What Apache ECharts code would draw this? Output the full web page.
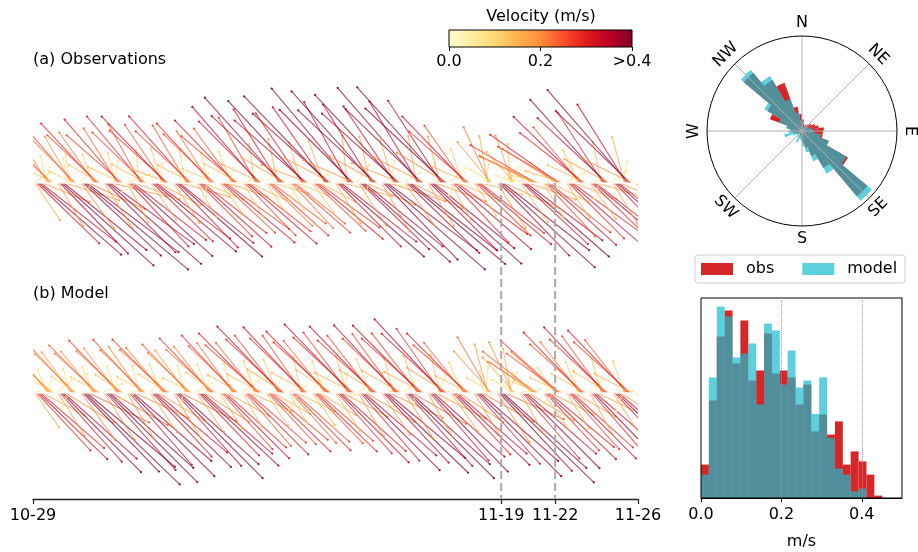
<!DOCTYPE html>
<html>
<head>
<meta charset="utf-8">
<script src="https://cdn.jsdelivr.net/npm/echarts@6/dist/echarts.min.js"></script>
<style>
  html, body { margin: 0; padding: 0; background: #fff; }
  #chart { width: 918px; height: 552px; }
</style>
</head>
<body>
<div id="chart"></div>
<script>
// stick samples, one per ~2 h; speed in cm/s, direction in deg (toward, clockwise from N)
const obsSpeed = [
  8,16,31,39,34,18,6,10,20,26,22,12,
  5,18,35,44,38,20,9,10,19,26,22,11,
  7,20,38,48,41,22,5,11,22,29,25,13,
  6,19,35,44,37,20,8,11,23,30,26,14,
  9,16,31,39,33,17,6,12,24,31,26,14,
  5,16,30,38,33,17,7,13,25,33,28,15,
  7,17,32,40,34,18,5,12,24,32,27,14,
  6,14,27,34,29,15,8,11,22,29,25,13,
  8,14,26,33,28,15,6,12,24,31,26,14,
  5,14,26,33,28,15,7,14,27,36,31,16,
  7,12,22,28,24,13,6,16,31,41,35,18,
  6,11,22,27,23,12,8,15,30,40,34,18,
  7,13,25,31,27,14,5,16,33,43,37,19,
  6,17,32,40,34,18,7,17,33,44,37,20,
  8,18,34,42,36,19,6,17,33,44,38,20,
  5,20,38,47,40,21,8,16,33,43,37,19,
  7,19,36,45,39,20,6,17,34,45,38,20,
  6,18,34,43,37,19,7,17,35,46,39,21,
  8,15,29,36,31,16,6,13,25,33,28,15,
  5,14,27,34,29,15,7,8,17,22,19,10,
  6,19,36,45,39,20,5,7,14,18,15,8,
  7,17,32,40,34,18,8,10,21,27,23,12,
  6,14,26,33,28,15,6,11,23,30,26,14,
  8,15,28,35,30,16,7,13,26,34,29,15,
  5,16,30,38,33,17,6,15,30,40,34,18,
  7,17,32,40,34,18,8,17,33,44,37,20,
  6,15
]
const obsDir = [
  60,146,134,131,128,112,20,348,327,318,312,296,
  85,150,136,132,129,108,350,352,330,319,315,292,
  40,144,133,130,127,115,200,340,325,317,313,300,
  95,148,135,131,126,104,10,345,328,319,311,294,
  70,152,137,132,128,110,240,355,331,320,314,298,
  30,145,134,130,127,118,5,342,326,316,312,290,
  88,147,136,131,129,106,330,350,329,318,313,297,
  55,150,135,132,128,113,180,346,327,317,314,293,
  100,143,133,130,126,109,15,338,324,316,310,299,
  75,149,136,131,128,116,270,352,330,319,315,295,
  45,146,134,132,127,107,355,348,328,318,313,300,
  90,151,137,131,129,112,210,344,326,317,311,291,
  65,144,133,130,126,118,25,340,325,316,312,298,
  80,148,135,131,128,105,340,354,331,320,315,294,
  35,147,134,132,129,114,190,347,328,318,313,299,
  92,150,136,131,127,108,8,343,326,317,312,292,
  58,145,134,130,128,117,260,350,329,319,314,297,
  84,149,135,132,129,110,352,346,327,318,313,301,
  48,152,137,131,126,113,225,341,325,316,311,293,
  96,146,134,130,128,106,15,10,350,335,320,300,
  70,148,136,132,128,115,60,30,355,340,318,290,
  40,145,133,131,127,109,280,300,296,300,295,285,
  86,150,137,132,129,117,250,310,302,305,300,288,
  62,147,135,131,126,111,345,335,320,314,308,295,
  78,144,134,130,128,107,200,348,327,318,313,298,
  52,149,136,132,129,114,12,345,328,319,314,296,
  88,146
]
const modelSpeed = [
  6,15,28,34,30,17,5,9,17,22,19,11,
  7,18,33,40,35,20,6,9,18,23,20,11,
  5,21,39,47,41,24,7,10,19,24,21,12,
  8,20,37,45,40,23,5,10,20,26,22,12,
  6,19,34,42,37,21,7,10,20,26,22,12,
  7,17,31,38,33,19,6,11,21,27,23,13,
  5,19,35,43,38,22,8,10,19,24,21,12,
  7,17,31,38,33,19,6,11,21,27,23,13,
  6,15,27,33,29,17,5,11,22,28,24,13,
  8,14,25,31,27,16,7,12,23,30,26,14,
  5,14,25,30,26,15,6,13,26,33,28,16,
  7,13,24,29,26,15,8,13,25,32,28,15,
  6,14,25,30,26,15,5,12,24,31,27,15,
  8,16,29,35,31,18,7,14,27,34,29,16,
  5,18,32,39,34,20,6,13,26,33,28,16,
  7,18,34,41,36,21,8,13,26,33,28,16,
  6,19,35,43,38,22,5,14,27,34,29,16,
  8,18,32,39,34,20,7,14,28,36,31,17,
  5,17,30,37,33,19,6,12,23,30,26,14,
  7,19,34,42,37,21,8,9,18,23,20,11,
  6,21,38,46,40,23,5,8,16,20,17,10,
  8,17,31,38,33,19,7,10,19,24,21,12,
  5,15,28,34,30,17,6,11,22,28,24,13,
  7,15,27,33,29,17,8,12,23,30,26,14,
  6,17,30,37,33,19,5,13,25,32,28,15,
  8,17,31,38,33,19,7,12,24,31,27,15,
  5,13
]
const modelDir = [
  75,145,137,134,131,118,30,340,322,316,313,300,
  50,148,138,135,132,122,200,345,324,317,314,302,
  90,144,136,134,130,116,350,338,321,315,312,298,
  65,147,138,135,132,120,15,342,323,316,313,303,
  80,150,139,135,131,115,250,347,325,317,314,299,
  45,146,137,134,130,121,340,336,320,315,312,301,
  95,149,138,135,132,117,190,344,323,316,313,297,
  60,145,136,133,131,123,10,339,322,316,312,304,
  85,148,138,135,132,119,230,346,324,317,314,300,
  55,151,139,135,131,114,355,341,321,315,311,298,
  88,146,137,134,130,120,20,337,322,316,313,302,
  70,149,138,135,132,116,210,348,325,317,314,299,
  42,145,136,134,131,122,345,340,321,315,312,303,
  92,147,138,135,132,118,5,343,323,316,313,297,
  58,150,139,135,131,121,260,338,322,316,312,301,
  82,146,137,134,130,115,335,345,324,317,314,300,
  48,148,138,135,132,120,180,341,322,315,312,298,
  87,151,139,136,132,117,25,347,325,317,313,302,
  66,145,137,134,131,123,240,336,321,315,311,296,
  94,149,138,135,131,119,350,5,345,330,318,300,
  53,147,137,134,132,114,30,20,350,335,318,298,
  79,150,139,135,131,121,270,315,305,308,302,292,
  61,146,137,134,130,117,220,325,312,312,306,295,
  90,148,138,135,132,120,355,338,322,316,312,299,
  47,151,139,136,131,116,15,344,324,317,313,301,
  84,147,137,134,131,122,200,340,322,316,312,297,
  70,145
]
const timeTicks = [0, 243, 271, 314]
const timeLabels = ['10-29', '11-19', '11-22', '11-26']
const markTimes = [243, 271]

const velTicks = [0, 0.2, 0.4]
const velLabels = ['0.0', '0.2', '>0.4']

// rose: 36 bins of 10 deg, starting at N
const roseObs = [12,8,6,8,10,12,15,18,23,22,22,30,56,90,45,28,18,12,
                 8,6,5,4,4,5,6,8,10,12,16,36,42,80,62,54,26,18]
const roseModel = [8,6,5,5,6,7,8,10,12,13,20,30,54,96,52,34,23,16,
                   10,9,13,8,6,7,10,19,14,13,17,26,46,84,67,36,20,12]
const compassLabels = ['N', 'NE', 'E', 'SE', 'S', 'SW', 'W', 'NW']
const compassRot = [0, -45, -90, 45, 0, -45, 90, 45]

// speed histogram, bin width 0.0196 m/s from 0
const histBin = 0.0196
const histObs = [16.7,48.7,80.8,93.7,67.2,88.7,58.7,63.7,82.2,62.2,63.7,60.3,
                 46.7,56.7,33.3,41.7,31.7,38.3,16.7,23.3,18.3,11.7,1.2]
const histModel = [11.7,60.3,95.8,90.8,70.3,72.2,77.2,46.7,87.2,83.8,56.7,73.7,
                   55.3,58.7,42,60.3,30,14.7,11.7,3.3,4.7]

const YLORRD = ['#ffffcc', '#ffeda0', '#fed976', '#feb24c', '#fd8d3c', '#fc4e2a', '#e31a1c', '#bd0026', '#800026']
const OBS_C = '#d62728'
const MODEL_C = 'rgba(23,190,207,0.7)'
const STICK_PX = 280 // pixels per m/s
const FONT = 'DejaVu Sans'
const FS = 16

const chart = echarts.init(document.getElementById('chart'))

function stickData(speed, dir) {
  return speed.map((s, i) => [i, s / 100, dir[i], Math.min(s / 100, 0.4)])
}

function renderStick(params, api) {
  const base = api.coord([api.value(0), 0])
  const s = api.value(1)
  const d = api.value(2) * Math.PI / 180
  const tip = [base[0] + s * Math.sin(d) * STICK_PX, base[1] - s * Math.cos(d) * STICK_PX]
  const color = api.visual('color')
  return {
    type: 'group',
    children: [
      { type: 'line', shape: { x1: base[0], y1: base[1], x2: tip[0], y2: tip[1] }, style: { stroke: color, lineWidth: 1.1, opacity: 0.7 } },
      { type: 'circle', shape: { cx: tip[0], cy: tip[1], r: 1.1 }, style: { fill: color, opacity: 0.9 } }
    ]
  }
}

function renderMark(params, api) {
  const p0 = api.coord([api.value(0), 1])
  const p1 = api.coord([api.value(0), 0])
  return { type: 'line', shape: { x1: p0[0], y1: p0[1], x2: p1[0], y2: p1[1] }, style: { stroke: '#aaaaaa', lineWidth: 2, lineDash: [8, 4] } }
}

function renderColorbar(params, api) {
  const cs = params.coordSys
  return {
    type: 'rect',
    shape: { x: cs.x, y: cs.y, width: cs.width, height: cs.height },
    style: {
      fill: new echarts.graphic.LinearGradient(0, 0, 1, 0, YLORRD.map((c, i) => ({ offset: i / (YLORRD.length - 1), color: c }))),
      stroke: '#000', lineWidth: 1
    }
  }
}

function renderRose(params, api) {
  const cs = params.coordSys
  const val = api.value(0)
  const a0 = api.value(1)
  const p = api.coord([val, a0 + 5])
  const r = Math.hypot(p[0] - cs.cx, p[1] - cs.cy)
  return {
    type: 'sector',
    shape: { cx: cs.cx, cy: cs.cy, r0: 0, r: r, startAngle: (a0 - 90) * Math.PI / 180, endAngle: (a0 + 10 - 90) * Math.PI / 180, clockwise: true },
    style: { fill: api.visual('color') }
  }
}

function renderHist(params, api) {
  const i = api.value(0)
  const p0 = api.coord([i * histBin, api.value(1)])
  const p1 = api.coord([(i + 1) * histBin, 0])
  return { type: 'rect', shape: { x: p0[0], y: p0[1], width: p1[0] - p0[0], height: p1[1] - p0[1] }, style: { fill: api.visual('color') } }
}

const hiddenAxis = { show: false }
const compassCx = 802, compassCy = 131, compassR = 95

const graphics = [
  { type: 'text', x: 33, y: 60, style: { text: '(a) Observations', fontSize: FS, fontFamily: FONT, fill: '#000', verticalAlign: 'middle' } },
  { type: 'text', x: 33, y: 294, style: { text: '(b) Model', fontSize: FS, fontFamily: FONT, fill: '#000', verticalAlign: 'middle' } },
  { type: 'text', x: 541, y: 17, style: { text: 'Velocity (m/s)', fontSize: FS, fontFamily: FONT, fill: '#000', align: 'center', verticalAlign: 'middle' } }
]
compassLabels.forEach((t, i) => {
  const b = i * 45 * Math.PI / 180
  graphics.push({
    type: 'text',
    x: compassCx + (compassR + 13) * Math.sin(b),
    y: compassCy - (compassR + 13) * Math.cos(b),
    rotation: compassRot[i] * Math.PI / 180,
    style: { text: t, fontSize: FS, fontFamily: FONT, fill: '#000', align: 'center', verticalAlign: 'middle' }
  })
})

chart.setOption({
  animation: false,
  backgroundColor: '#fff',
  textStyle: { fontFamily: FONT },
  graphic: graphics,
  grid: [
    { left: 33, top: 60, width: 605, height: 246 },
    { left: 33, top: 287, width: 605, height: 212 },
    { left: 33, top: 183, width: 605, height: 316 },
    { left: 449, top: 30, width: 183, height: 17 },
    { left: 701, top: 298, width: 201, height: 200, show: true, borderColor: '#000', borderWidth: 1, z: 10 }
  ],
  polar: { center: [compassCx, compassCy], radius: compassR },
  angleAxis: {
    type: 'value', min: 0, max: 360, interval: 45, startAngle: 90, clockwise: true, z: 5,
    axisLine: { lineStyle: { color: '#000', width: 1 } },
    axisTick: { show: false },
    axisLabel: { show: false },
    splitLine: { lineStyle: { color: '#b0b0b0', width: 1 } }
  },
  radiusAxis: {
    min: 0, max: 100,
    axisLine: { show: false }, axisTick: { show: false }, axisLabel: { show: false }, splitLine: { show: false }
  },
  xAxis: [
    { gridIndex: 0, type: 'value', min: 0, max: 314, ...hiddenAxis },
    {
      gridIndex: 1, type: 'value', min: 0, max: 314,
      axisLine: { onZero: false, lineStyle: { color: '#222', width: 1.3 } },
      axisTick: { customValues: timeTicks, length: 5, lineStyle: { color: '#222', width: 1.2 } },
      axisLabel: { customValues: timeTicks, formatter: v => timeLabels[timeTicks.indexOf(v)], fontSize: FS, color: '#000', margin: 9 },
      splitLine: { show: false }
    },
    { gridIndex: 2, type: 'value', min: 0, max: 314, ...hiddenAxis },
    {
      gridIndex: 3, type: 'value', min: 0, max: 0.4,
      axisLine: { show: false, onZero: false },
      axisTick: { customValues: velTicks, length: 4, lineStyle: { color: '#000' } },
      axisLabel: { customValues: velTicks, formatter: v => velLabels[velTicks.indexOf(v)], fontSize: FS, color: '#000', margin: 7 },
      splitLine: { show: false }
    },
    {
      gridIndex: 4, type: 'value', min: 0, max: 0.5, interval: 0.2, z: 10,
      name: 'm/s', nameLocation: 'middle', nameGap: 36, nameTextStyle: { fontSize: FS, color: '#000' },
      axisLine: { onZero: false, lineStyle: { color: '#000' } },
      axisTick: { length: 4, lineStyle: { color: '#000' } },
      axisLabel: { fontSize: FS, color: '#000', margin: 9, showMaxLabel: false, formatter: v => v.toFixed(1) },
      splitLine: { show: true, showMinLine: false, showMaxLine: false, lineStyle: { type: 'dotted', color: '#999', width: 1 } }
    }
  ],
  yAxis: [
    { gridIndex: 0, type: 'value', min: -1, max: 1, ...hiddenAxis },
    { gridIndex: 1, type: 'value', min: -1, max: 1, ...hiddenAxis },
    { gridIndex: 2, type: 'value', min: 0, max: 1, ...hiddenAxis },
    { gridIndex: 3, type: 'value', min: 0, max: 1, ...hiddenAxis },
    { gridIndex: 4, type: 'value', min: 0, max: 100, axisLine: { show: false }, axisTick: { show: false }, axisLabel: { show: false }, splitLine: { show: false } }
  ],
  visualMap: {
    type: 'continuous', show: false, seriesIndex: [0, 1], dimension: 3,
    min: 0, max: 0.4, inRange: { color: YLORRD }
  },
  legend: {
    data: ['obs', 'model'], left: 695, top: 255, icon: 'rect',
    itemWidth: 32, itemHeight: 12, itemGap: 28,
    padding: [6, 8, 6, 6],
    borderColor: '#cccccc', borderWidth: 1, borderRadius: 3,
    textStyle: { fontSize: FS, color: '#000', padding: [0, 0, 0, 8] }
  },
  series: [
    {
      type: 'custom', name: 'obsSticks', xAxisIndex: 0, yAxisIndex: 0, clip: true,
      data: stickData(obsSpeed, obsDir), renderItem: renderStick, encode: { x: 0, y: 1 },
      markLine: { silent: true, symbol: 'none', label: { show: false }, lineStyle: { color: '#fff', width: 1.5, type: 'solid', opacity: 0.85 }, data: [{ yAxis: 0 }] }
    },
    {
      type: 'custom', name: 'modelSticks', xAxisIndex: 1, yAxisIndex: 1, clip: true,
      data: stickData(modelSpeed, modelDir), renderItem: renderStick, encode: { x: 0, y: 1 },
      markLine: { silent: true, symbol: 'none', label: { show: false }, lineStyle: { color: '#fff', width: 1.5, type: 'solid', opacity: 0.85 }, data: [{ yAxis: 0 }] }
    },
    {
      type: 'custom', name: 'marks', xAxisIndex: 2, yAxisIndex: 2, z: 10,
      data: markTimes.map(t => [t, 0]), renderItem: renderMark, encode: { x: 0, y: 1 }
    },
    {
      type: 'custom', name: 'colorbar', xAxisIndex: 3, yAxisIndex: 3,
      data: [[0, 0]], renderItem: renderColorbar, encode: { x: 0, y: 1 }
    },
    {
      type: 'custom', name: 'obs', coordinateSystem: 'polar', itemStyle: { color: OBS_C },
      data: roseObs.map((v, i) => [v, i * 10]), renderItem: renderRose
    },
    {
      type: 'custom', name: 'model', coordinateSystem: 'polar', itemStyle: { color: MODEL_C },
      data: roseModel.map((v, i) => [v, i * 10]), renderItem: renderRose
    },
    {
      type: 'custom', name: 'obs', xAxisIndex: 4, yAxisIndex: 4, itemStyle: { color: OBS_C },
      data: histObs.map((h, i) => [i, h]), renderItem: renderHist, encode: { x: 0, y: 1 }
    },
    {
      type: 'custom', name: 'model', xAxisIndex: 4, yAxisIndex: 4, itemStyle: { color: MODEL_C },
      data: histModel.map((h, i) => [i, h]), renderItem: renderHist, encode: { x: 0, y: 1 }
    }
  ]
})
</script>
</body>
</html>
